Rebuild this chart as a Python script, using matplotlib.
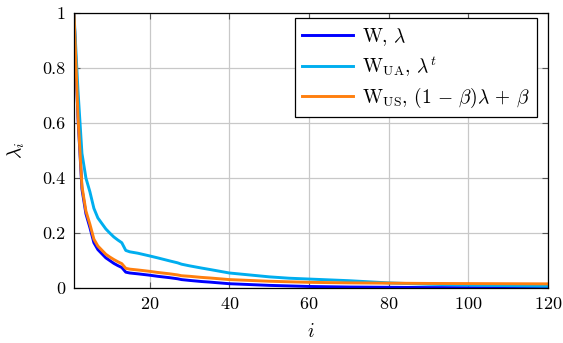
import numpy as np
import matplotlib
matplotlib.use("Agg")
import matplotlib.pyplot as plt

plt.rcParams['font.family'] = 'serif'
plt.rcParams['font.serif'] = ['cmr10']
plt.rcParams['mathtext.fontset'] = 'cm'
plt.rcParams['axes.formatter.use_mathtext'] = True

# eigenvalue index
idx = [1, 2, 3, 4, 5, 6, 7, 8, 9, 10, 11, 12, 13, 14, 15, 17, 20, 22, 25, 27,
       28, 30, 33, 35, 40, 45, 50, 55, 60, 70, 80, 90, 100, 110, 120]

# W, lambda
lam_w = [1.0, 0.62, 0.36, 0.27, 0.22, 0.165, 0.14, 0.125, 0.11, 0.10, 0.09,
         0.082, 0.075, 0.058, 0.055, 0.052, 0.047, 0.043, 0.038, 0.034,
         0.031, 0.028, 0.024, 0.022, 0.016, 0.013, 0.010, 0.008, 0.006,
         0.004, 0.003, 0.002, 0.0015, 0.001, 0.0005]

# W_UA, lambda^t
lam_ua = [1.0, 0.72, 0.49, 0.40, 0.35, 0.29, 0.255, 0.235, 0.215, 0.20, 0.186,
          0.175, 0.165, 0.137, 0.132, 0.127, 0.117, 0.11, 0.099, 0.092,
          0.087, 0.081, 0.073, 0.068, 0.055, 0.048, 0.041, 0.036, 0.033,
          0.027, 0.019, 0.014, 0.011, 0.009, 0.007]

# W_US, (1-beta) lambda + beta
lam_us = [1.0, 0.626, 0.37, 0.28, 0.232, 0.178, 0.153, 0.138, 0.123, 0.113,
          0.104, 0.096, 0.089, 0.072, 0.069, 0.066, 0.061, 0.057, 0.052,
          0.048, 0.045, 0.043, 0.039, 0.037, 0.031, 0.028, 0.025, 0.023,
          0.021, 0.019, 0.018, 0.017, 0.0165, 0.016, 0.0155]

labels = [r'W, $\lambda$',
          r'$\mathrm{W}_{\mathrm{UA}}$, $\lambda^t$',
          r'$\mathrm{W}_{\mathrm{US}}$, $(1\,-\,\beta)\lambda\,+\,\beta$']
colors = ['#0000ff', '#00aeef', '#ff7f0e']

fig = plt.figure(figsize=(5.63, 3.43), dpi=100)
ax = fig.add_axes([0.1314, 0.160, 0.842, 0.802])

for vals, lab, col in zip([lam_w, lam_ua, lam_us], labels, colors):
    ax.plot(idx, vals, color=col, lw=2.1, label=lab)

ax.set_xlim(1, 120)
ax.set_ylim(0, 1)
ax.set_xticks([20, 40, 60, 80, 100, 120])
ax.set_yticks([0, 0.2, 0.4, 0.6, 0.8, 1])
ax.set_yticklabels(['0', '0.2', '0.4', '0.6', '0.8', '1'])
ax.grid(True, color='#c8c8c8', lw=0.9)
ax.tick_params(direction='in', top=True, right=True, labelsize=13,
               color='#555555', length=4, pad=6)
for s in ax.spines.values():
    s.set_linewidth(0.9)

ax.set_xlabel(r'$i$', fontsize=14)
ax.set_ylabel(r'$\lambda_i$', fontsize=14)
ax.xaxis.set_label_coords(0.5, -0.125)
ax.yaxis.set_label_coords(-0.10, 0.5)

leg = ax.legend(loc='upper right', bbox_to_anchor=(537 / 563, 1 - 18 / 343),
                bbox_transform=fig.transFigure, borderaxespad=0,
                fontsize=14, frameon=True, fancybox=False,
                edgecolor='black', framealpha=1, handlelength=2.6,
                labelspacing=0.35, handletextpad=0.45, borderpad=0.4)
leg.get_frame().set_linewidth(0.9)

fig.savefig('out.png', dpi=100)
